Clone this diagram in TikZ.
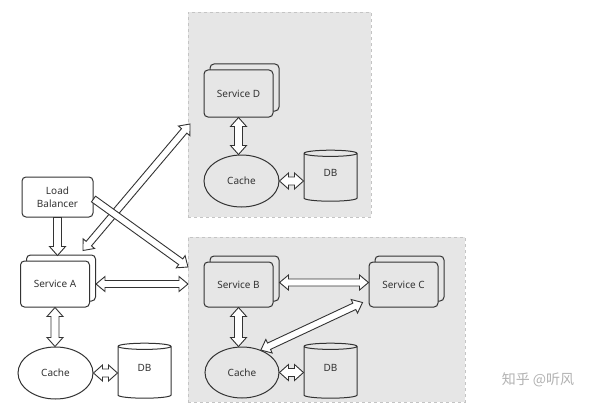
\documentclass[tikz,border=0pt]{standalone}
\usepackage{fontspec}
\setmainfont{Noto Sans}
\newfontfamily\cjk{Noto Sans CJK SC}
\usetikzlibrary{calc,shapes.geometric,shadows}
\definecolor{lc}{HTML}{333333}
\definecolor{gfill}{HTML}{E6E6E6}
\definecolor{gline}{HTML}{C4C4C4}
\tikzset{
  grp/.style={fill=gfill, draw=gline, dashed, line width=0.8pt, anchor=north west, inner sep=0pt},
  lbl/.style={font=\fontsize{10}{13}\selectfont, text=lc, align=center},
  plainbox/.style={lbl, draw=lc, line width=1pt, rounded corners=4pt, fill=white, inner sep=0pt, minimum width=71pt, minimum height=40pt},
  svc/.style={lbl, draw=lc, line width=1pt, rounded corners=4pt, inner sep=0pt, fill=#1,
    minimum width=69pt, minimum height=46pt,
    copy shadow={shadow xshift=6pt, shadow yshift=6pt, draw=lc, line width=1pt, fill=#1}},
  svc/.default=white,
  cache/.style={lbl, ellipse, draw=lc, line width=1pt, fill=#1, inner sep=0pt, minimum width=75pt, minimum height=52pt},
  cache/.default=white,
  dbnode/.style={lbl, cylinder, shape border rotate=90, aspect=0.45, draw=lc, line width=1pt, fill=#1, inner sep=0pt, minimum width=53pt, minimum height=55pt},
  dbnode/.default=white,
  arr/.style={draw=lc, line width=0.9pt, fill=white, line join=miter}
}
\newcommand\dbtext{\raisebox{5pt}[7pt][0pt]{DB}}
\def\aw{4pt}\def\ah{8pt}
% double hollow arrow
\newcommand\darr[3][]{%
  \coordinate (q1) at ($(#2)!9pt!(#3)$);
  \coordinate (q2) at ($(#3)!9pt!(#2)$);
  \draw[arr,#1] (#2) -- ($(q1)!\ah!90:(#3)$) -- ($(q1)!\aw!90:(#3)$)
    -- ($(q2)!\aw!90:(#3)$) -- ($(q2)!\ah!90:(#3)$) -- (#3)
    -- ($(q2)!\ah!-90:(#3)$) -- ($(q2)!\aw!-90:(#3)$)
    -- ($(q1)!\aw!-90:(#3)$) -- ($(q1)!\ah!-90:(#3)$) -- cycle;}
% single hollow arrow
\newcommand\sarr[3][]{%
  \coordinate (q2) at ($(#3)!9pt!(#2)$);
  \draw[arr,#1] ($(#2)!\aw!90:(#3)$)
    -- ($(q2)!\aw!90:(#3)$) -- ($(q2)!\ah!90:(#3)$) -- (#3)
    -- ($(q2)!\ah!-90:(#3)$) -- ($(q2)!\aw!-90:(#3)$)
    -- ($(#2)!\aw!-90:(#3)$) -- cycle;}
\begin{document}
\begin{tikzpicture}[x=1pt,y=-1pt]
\fill[white] (0,0) rectangle (600,404);
\useasboundingbox (0,0) rectangle (600,404);
% groups
\node[grp, minimum width=183pt, minimum height=205pt] (gD) at (188,12) {};
\node[grp, minimum width=277pt, minimum height=165pt] (gB) at (188,237) {};
% left part
\node[plainbox] (lb) at (57.5,197) {Load\\Balancer};
\node[svc] (sa) at (55,284) {Service A};
\node[cache] (ca) at (55.5,373) {Cache};
\node[dbnode] (dbA) at (144.5,372.5) {\dbtext};
% group D
\node[svc=gfill, minimum height=47pt] (sd) at (238.5,93.5) {Service D};
\node[cache=gfill] (cD) at (241.5,181) {Cache};
\node[dbnode=gfill, minimum height=51pt] (dbD) at (330.5,177.5) {\dbtext};
% group B
\node[svc=gfill, minimum height=45pt] (sb) at (238.5,284.5) {Service B};
\node[svc=gfill, minimum height=45pt] (sc) at (403.5,284.5) {Service C};
\node[cache=gfill, minimum width=74pt, minimum height=51pt] (cB) at (242,372.5) {Cache};
\node[dbnode=gfill] (dbB) at (330.5,372.5) {\dbtext};
% watermark
\node[font=\cjk\fontsize{14}{16}\selectfont, text=black!30] (wm) at (538,380) {知乎 @听风};
% connector end points
\coordinate (lbTip) at ([yshift=5pt]lb.south |- sa.north);
\coordinate (saR) at ([xshift=6pt]sa.east);
\coordinate (gBa) at (saR -| gB.west);
\coordinate (lbE) at ([yshift=-2pt]lb.east);
\coordinate (gBb) at ([yshift=-30pt]gB.north west);
\coordinate (gDa) at ([shift={(2pt,-112pt)}]gD.north west);
\coordinate (saT) at ([shift={(-7pt,10pt)}]sa.north east);
\coordinate (sdB) at (sd.south);
\coordinate (cDT) at (sd.south |- cD.north);
\coordinate (dbDw) at (cD.east -| dbD.west);
\coordinate (sbR) at ([shift={(6pt,2pt)}]sb.east);
\coordinate (scL) at (sbR -| sc.west);
\coordinate (sbB) at (sb.south);
\coordinate (cBT) at (sb.south |- cB.north);
\coordinate (dbBw) at (cB.east -| dbB.west);
\coordinate (cBa) at (cB.50);
\coordinate (scB) at ([shift={(-6pt,5pt)}]sc.south west);
\coordinate (saB) at (sa.south);
\coordinate (caT) at (sa.south |- ca.north);
\coordinate (dbAw) at (ca.east -| dbA.west);
% connectors
\sarr{lb.south}{lbTip}
\darr{saB}{caT}
\darr{ca.east}{dbAw}
\darr{sdB}{cDT}
\darr{cD.east}{dbDw}
\darr{sbB}{cBT}
\darr{cB.east}{dbBw}
\def\aw{3.5pt}\def\ah{7.5pt}
\darr{saR}{gBa}
\darr{sbR}{scL}
\darr{saT}{gDa}
\sarr{lbE}{gBb}
\darr{cBa}{scB}
\end{tikzpicture}
\end{document}
